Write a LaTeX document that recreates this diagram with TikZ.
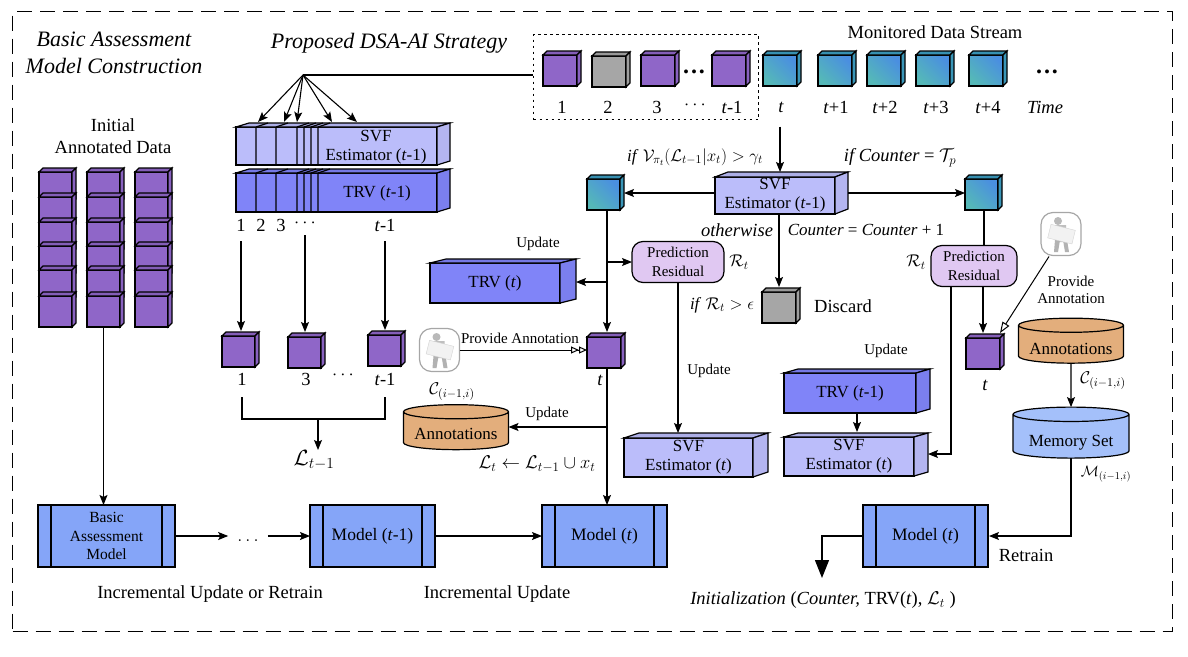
\documentclass[tikz,border=0pt]{standalone}
\usepackage{fix-cm}
\usepackage{fontspec}
\setmainfont{Liberation Serif}
\usetikzlibrary{shapes.geometric,arrows.meta}

\definecolor{cubepurple}{HTML}{8F66C8}
\definecolor{cubegray}{HTML}{A6A6A6}
\definecolor{cubeteal}{HTML}{3C9CC0}
\definecolor{cubeblue}{HTML}{4A8FE0}
\definecolor{cubegreen}{HTML}{55B8B8}
\definecolor{svffill}{HTML}{BBBDFA}
\definecolor{trvfill}{HTML}{8084F8}
\definecolor{modelfill}{HTML}{85A5F8}
\definecolor{residualfill}{HTML}{E0C8F2}
\definecolor{annofill}{HTML}{E3AE7C}
\definecolor{memfill}{HTML}{A4C0FA}

\tikzset{
  >={Stealth[length=10pt,width=8pt,inset=2pt]},
  flow/.style={->,draw=black,line width=1.1pt},
  plainline/.style={draw=black,line width=1.1pt},
  hollowflow/.style={draw=black,line width=1pt,-{Triangle[open,fill=white,length=11pt,width=8pt]}},
  hollowtwin/.style={draw=black,line width=1pt,-{Triangle[open,fill=white,length=8pt,width=7pt]Triangle[open,fill=white,length=8pt,width=7pt]}},
  solidbox/.style={draw=black,line width=1.2pt,inner sep=0pt,outer sep=0pt,align=center,font=\fontsize{17}{19}\selectfont},
  bluecube/.style={left color=cubeblue,right color=cubegreen,shading angle=-45},
  modelbox/.style={draw=black,line width=1.2pt,fill=modelfill,inner sep=0pt,outer sep=0pt,minimum width=125pt,minimum height=62pt,align=center,font=\fontsize{17.5}{19}\selectfont},
  residual/.style={draw=black,line width=1.2pt,fill=residualfill,rounded corners=11pt,inner sep=0pt,outer sep=0pt,minimum width=92pt,minimum height=41pt,align=center,font=\fontsize{15}{19}\selectfont},
  store/.style={draw=black,line width=1.2pt,cylinder,shape border rotate=90,aspect=0.17,inner sep=0pt,outer sep=0pt,cylinder uses custom fill,align=center,font=\fontsize{17}{19}\selectfont},
  tag/.style={inner sep=0pt,align=center,font=\fontsize{18.5}{22}\selectfont},
  condtag/.style={inner sep=0pt,align=center,font=\fontsize{17}{19}\selectfont},
  smalltag/.style={inner sep=0pt,align=center,font=\fontsize{15}{17}\selectfont},
  headline/.style={inner sep=0pt,align=center,font=\fontsize{22}{27}\selectfont\itshape},
  bigdots/.style={inner sep=0pt,font=\fontsize{24}{24}\selectfont\bfseries},
  icon/.style={draw=gray!70,line width=1.2pt,fill=white,rounded corners=12pt,minimum width=40pt,minimum height=43pt,inner sep=0pt,outer sep=0pt},
}

% name, top left corner, width, height, depth x, depth y, colour, text
\newcommand{\solid}[9][]{
\node[solidbox,anchor=north west,fill=#8,minimum width=#4pt,minimum height=#5pt,#1] (#2) at (#3) {#9};
\draw[line width=1.2pt,fill=#8!92!black] (#2.north west) -- ++(#6,-#7) -- ++(#4,0) -- (#2.north east) -- cycle;
\draw[line width=1.2pt,fill=#8!96!black] (#2.north east) -- ++(#6,-#7) -- ++(0,#5) -- (#2.south east) -- cycle;
}
\newcommand{\model}[3]{
\node[modelbox,anchor=north west] (#1) at (#2) {#3};
\draw[line width=1.2pt] ([xshift=13pt]#1.north west) -- ([xshift=13pt]#1.south west);
\draw[line width=1.2pt] ([xshift=-13pt]#1.north east) -- ([xshift=-13pt]#1.south east);
}
\newcommand{\person}[2]{
\node[icon] (#1) at (#2) {};
\begin{scope}[shift={(#1.center)}]
\fill[gray!55] (-3,-13) circle (4);
\fill[gray!50] (-6,-9) -- (5,-9) -- (6,8) -- (-5,8) -- cycle;
\fill[gray!60] (-6,6) -- (-1,6) -- (-3,18) -- (-7,18) -- cycle;
\fill[gray!60] (2,6) -- (6,6) -- (8,18) -- (4,18) -- cycle;
\draw[gray!35,fill=gray!10,rotate=-14] (-12,-7) rectangle (13,7);
\end{scope}
}

\begin{document}
\begin{tikzpicture}[x=1pt,y=-1pt]
\useasboundingbox (0,0) rectangle (1188,656);
\node[draw=black,line width=1.3pt,dash pattern=on 15pt off 8pt,anchor=north west,minimum width=1160pt,minimum height=620pt,inner sep=0pt] (frame) at (12,11) {};

\node[headline] (title0) at (114,52.5) {Basic Assessment\\Model Construction};
\node[headline] (title1) at (389,43) {Proposed DSA-AI Strategy};
\node[tag] (init) at (113,136) {Initial\\Annotated Data};
\node[tag] (stream) at (935,32) {Monitored Data Stream};

\foreach \c/\x in {0/39,1/87,2/135}
  \foreach \r/\y in {0/172,1/197,2/222,3/246,4/270,5/296}
    \solid{stack\c\r}{\x,\y}{33}{31}{4}{4}{cubepurple}{};

\solid{svfold}{236,127}{201}{38}{13}{4}{svffill}{}
\solid{trvold}{236,173}{201}{39}{13}{4}{trvfill}{}
\foreach \x in {256,276,297,304,311,318}{
  \draw[line width=1.2pt] (\x,127) -- (\x,165) (\x,127) -- ++(12,-4);
  \draw[line width=1.2pt] (\x,173) -- (\x,212) (\x,173) -- ++(12,-4);
}
\node[solidbox,draw=none] (svfoldtext) at (376,147.5) {SVF\\Estimator (\textit{t}-1)};
\node[solidbox,draw=none] (trvoldtext) at (377,193) {TRV (\textit{t}-1)};

\node[tag] (n1) at (241,225) {1};
\node[tag] (n2) at (261,225) {2};
\node[tag] (n3) at (281,225) {3};
\node[tag] (n4) at (305,223) {$\cdots$};
\node[tag] (n5) at (385,225) {\textit{t}-1};

\coordinate (apex) at (303,75);
\foreach \n/\x in {1/258,2/284,3/297,4/332,5/357}{
  \coordinate (fan\n) at (\x,122);
  \draw [flow] (apex) -- (fan\n);
}

\node[draw=black,line width=1.3pt,dash pattern=on 2.5pt off 3.5pt,anchor=north west,minimum width=225pt,minimum height=85pt,inner sep=0pt] (seen) at (533,34) {};
\draw[plainline] (apex) -- (seen.west |- apex);

\solid{top1}{543,55}{34}{31}{4}{4}{cubepurple}{}
\solid{top2}{592,56}{34}{31}{4}{4}{cubegray}{}
\solid{top3}{641,55}{34}{31}{4}{4}{cubepurple}{}
\solid{top4}{712,55}{34}{31}{4}{4}{cubepurple}{}
\node[bigdots] (dots0) at (694,72) {.\hspace{2pt}.\hspace{2pt}.};
\foreach \n/\x in {5/763,6/818,7/867,8/916,9/969}
  \solid[bluecube]{top\n}{\x,55}{34}{31}{4}{4}{cubeteal}{};
\node[bigdots] (dots1) at (1047,72) {.\hspace{2pt}.\hspace{2pt}.};

\node[tag] (l1) at (562,107) {1};
\node[tag] (l2) at (608,107) {2};
\node[tag] (l3) at (657,107) {3};
\node[tag] (l4) at (695,105) {$\cdots$};
\node[tag] (l5) at (732,107) {\textit{t}-1};
\node[tag] (l6) at (781,107) {\textit{t}};
\node[tag] (l7) at (836,107) {\textit{t}+1};
\node[tag] (l8) at (885,107) {\textit{t}+2};
\node[tag] (l9) at (936,107) {\textit{t}+3};
\node[tag] (l10) at (988,107) {\textit{t}+4};
\node[tag] (l11) at (1045,107) {\textit{Time}};

\solid{svfnow}{715,177}{120}{37}{13}{5}{svffill}{SVF\\Estimator (\textit{t}-1)}
\coordinate (svftop) at (780,172);
\draw [flow] ([yshift=-14pt]l6.south -| svftop) -- (svftop);

\solid[bluecube]{left}{587,179}{33}{31}{4}{4}{cubeteal}{}
\solid[bluecube]{right}{965,179}{33}{31}{4}{4}{cubeteal}{}
\coordinate (midline) at (780,193);
\draw [flow] (svfnow.west |- midline) -- ([xshift=4pt]left.east |- midline);
\draw [flow] ([xshift=13pt]svfnow.east |- midline) -- (right.west |- midline);

\node[condtag] (cond0) at (695,157) {\textit{if} $\mathcal{V}_{\pi_t}(\mathcal{L}_{t-1}|x_t)>\gamma_t$};
\node[tag] (cond1) at (900,158) {\textit{if Counter} = $\mathcal{T}_p$};
\node[tag] (cond2) at (737,230) {\textit{otherwise}};
\node[condtag] (cond3) at (866,230) {\textit{Counter} = \textit{Counter} + 1};

\solid{gone}{762,292}{34}{31}{4}{4}{cubegray}{}
\draw [flow] (svfnow.south -| gone.north) -- ([yshift=5pt]gone.north);
\node[tag] (goneword) at (843,306) {Discard};
\node[condtag] (cond4) at (722,305) {\textit{if} $\mathcal{R}_t>\epsilon$};

\node[residual] (res0) at (678,262) {Prediction\\Residual};
\node[condtag] (rt0) at (739,262) {$\mathcal{R}_t$};
\node[residual,minimum width=86pt] (res1) at (974,266) {Prediction\\Residual};
\node[condtag] (rt1) at (916,262) {$\mathcal{R}_t$};

\solid{trvnow}{430,263}{130}{40}{16}{4}{trvfill}{TRV (\textit{t})}
\node[smalltag] (up0) at (538,244) {Update};

\solid{picked0}{222,336}{33}{31}{4}{4}{cubepurple}{}
\solid{picked1}{288,337}{33}{31}{4}{4}{cubepurple}{}
\solid{picked2}{368,335}{33}{31}{4}{4}{cubepurple}{}
\solid{picked3}{587,337}{34}{31}{4}{4}{cubepurple}{}
\draw [flow] ([yshift=-10pt]n1.south) -- ([yshift=5pt]picked0.north -| n1.south);
\draw [flow] ([yshift=-8pt]n4.south) -- ([yshift=5pt]picked1.north -| n4.south);
\draw [flow] ([yshift=-10pt]n5.south) -- ([yshift=5pt]picked2.north -| n5.south);

\node[tag] (c1) at (242,379) {1};
\node[tag] (c3) at (306,379) {3};
\node[tag] (c4) at (343,375) {$\cdots$};
\node[tag] (c5) at (385,379) {\textit{t}-1};
\node[tag] (c6) at (600,380) {\textit{t}};

\coordinate (join) at (318,419);
\draw[plainline] ([yshift=-12pt]c1.south) |- (join) -| ([yshift=-12pt]c5.south);
\node[tag,font=\fontsize{22}{24}\selectfont] (lold) at (314,460) {$\mathcal{L}_{t-1}$};
\draw [flow] (join) -- (lold.north -| join);

\person{who0}{439.5,350}
\node[smalltag] (give0) at (520,338) {Provide Annotation};
\draw [hollowtwin] (who0.east) -- (picked3.west |- who0.east);

\coordinate (branch0) at (607,262);
\coordinate (branch1) at (607,282);
\coordinate (branch2) at (607,427);
\draw[plainline] (left.south -| branch0) -- (branch0);
\draw [flow] (branch0) -- (res0.west);
\draw [flow] (branch1) -- ([xshift=16pt]trvnow.east |- branch1);
\draw [flow] (branch0) -- ([yshift=5pt]picked3.north -| branch0);

\node[store,minimum width=105pt,minimum height=45pt,cylinder body fill=annofill,cylinder end fill=annofill] (anno0) at (456,431) {\raisebox{-8pt}[0pt][0pt]{Annotations}};
\node[condtag] (cost0) at (452,392) {$\mathcal{C}_{(i-1,i)}$};
\node[smalltag] (up1) at (547,414) {Update};
\draw [flow] (branch2) -- (anno0.east |- branch2);
\node[tag] (union) at (537,464) {$\mathcal{L}_t\leftarrow\mathcal{L}_{t-1}\cup x_t$};

\solid{svfnew0}{624,438}{129}{39}{15}{5}{svffill}{SVF\\Estimator (\textit{t})}
\node[smalltag] (up2) at (709,371) {Update};
\draw [flow] (res0.south) -- ([yshift=5pt]svfnew0.north -| res0.south);

\solid{trvprev}{784,373}{132}{40}{14}{4}{trvfill}{TRV (\textit{t}-1)}
\solid{svfnew1}{784,437}{130}{39}{14}{4}{svffill}{SVF\\Estimator (\textit{t})}
\node[smalltag] (up3) at (886,351) {Update};
\coordinate (short0) at (857,373);
\draw [flow] (trvprev.south -| short0) -- ([yshift=5pt]svfnew1.north -| short0);

\coordinate (turn0) at (951,454);
\draw[flow] (res1.south -| turn0) -- (turn0) -- ([xshift=14pt]svfnew1.east |- turn0);

\solid{picked4}{966,338}{34}{31}{4}{4}{cubepurple}{}
\node[tag] (c7) at (985,385) {\textit{t}};
\draw[plainline] ([xshift=10pt]res1.north |- right.south) -- ([xshift=10pt]res1.north);
\draw [flow] ([xshift=9pt]res1.south) -- ([yshift=5pt]picked4.north);

\person{who1}{1061,234}
\node[smalltag] (give1) at (1071,290) {Provide\\Annotation};
\draw [hollowflow] ([xshift=8pt,yshift=-1pt]who1.south west) -- ([yshift=5pt]picked4.north east);

\node[store,minimum width=105pt,minimum height=45pt,cylinder body fill=annofill,cylinder end fill=annofill] (anno1) at (1071,344.5) {\raisebox{-9.5pt}[0pt][0pt]{Annotations}};
\node[store,minimum width=116pt,minimum height=51pt,cylinder body fill=memfill,cylinder end fill=memfill] (mem) at (1071,436.5) {\raisebox{-9.5pt}[0pt][0pt]{Memory Set}};
\draw [flow] (anno1.south) -- (mem.north);
\node[condtag] (cost1) at (1103,381) {$\mathcal{C}_{(i-1,i)}$};
\node[condtag,font=\fontsize{15}{17}\selectfont] (mset) at (1106,474) {$\mathcal{M}_{(i-1,i)}$};

\node[modelbox,anchor=north west,minimum width=137pt,font=\fontsize{15.5}{18.5}\selectfont] (base) at (38,505) {Basic\\Assessment\\Model};
\draw[line width=1.2pt] ([xshift=13pt]base.north west) -- ([xshift=13pt]base.south west);
\draw[line width=1.2pt] ([xshift=-13pt]base.north east) -- ([xshift=-13pt]base.south east);
\model{m0}{310,505}{Model (\textit{t}-1)}
\model{m1}{542,505}{Model (\textit{t})}
\model{m2}{863,505}{Model (\textit{t})}

\draw [flow] (stack15.south) -- (base.north -| stack15.south);
\node[tag] (dots2) at (248,541) {$\ldots$};
\coordinate (rowline) at (248,536);
\draw [flow] (base.east) -- ([xshift=-9pt]dots2.west |- rowline);
\draw [flow] ([xshift=9pt]dots2.east |- rowline) -- (m0.west);
\draw [flow] (m0.east) -- (m1.west);
\draw [flow] (picked3.south -| branch2) -- (m1.north -| branch2);

\draw[flow] (mem.south) -- (m2.east -| mem.south) -- ([xshift=1pt]m2.east);
\coordinate (drop) at (822,578);
\draw[line width=1.2pt,-{Triangle[length=18pt,width=14pt]}] (m2.west) -| (drop);

\node[tag] (retrain) at (1026,555) {Retrain};
\node[tag] (reset) at (823,600) {\textit{Initialization} (\textit{Counter,} TRV(\textit{t}), $\mathcal{L}_t$ )};
\node[tag] (inc0) at (210,594) {Incremental Update or Retrain};
\node[tag] (inc1) at (497,594) {Incremental Update};
\end{tikzpicture}
\end{document}
